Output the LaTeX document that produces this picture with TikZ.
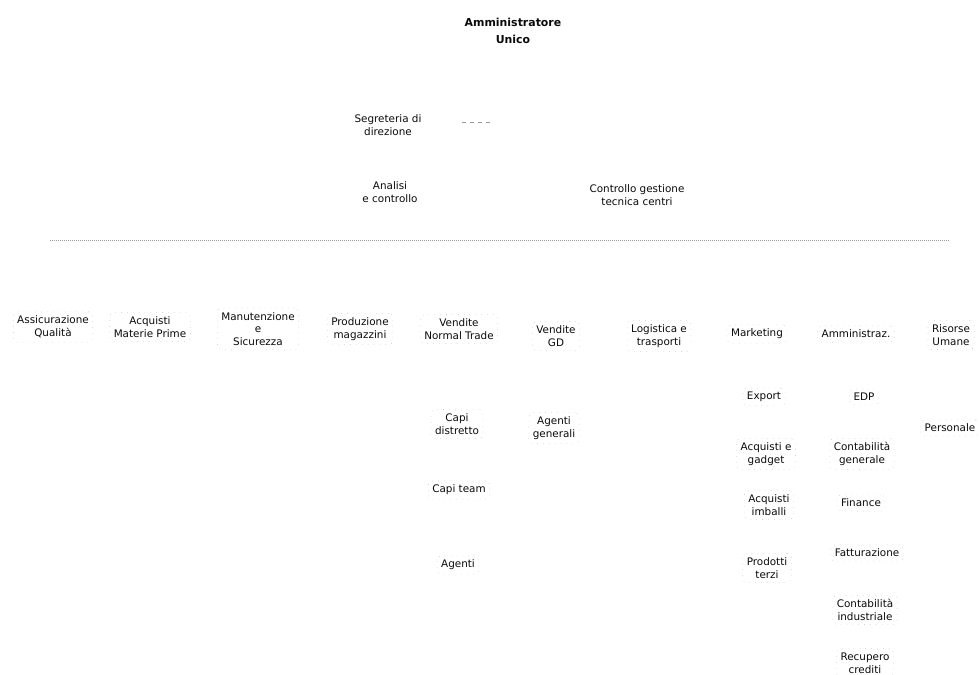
\documentclass[tikz,border=0pt]{standalone}
\usepackage{fontspec}
\setmainfont{DejaVu Sans}
\usepackage{xcolor}
\usetikzlibrary{positioning}
\definecolor{OInk}{HTML}{0A0A0A}
\definecolor{OTrace}{HTML}{9A9A9A}

\begin{document}
\begin{tikzpicture}[x=0.75pt,y=-0.75pt,
    unit/.style={align=center, text=OInk, inner sep=3pt,
      font=\fontsize{7.8}{9.6}\selectfont,
      draw=OTrace!70, loosely dotted, rounded corners=3pt},
    plain/.style={align=center, text=OInk, inner sep=2pt,
      font=\fontsize{7.8}{9.6}\selectfont},
    trace/.style={draw=OTrace, densely dotted, line width=0.5pt}]
  \useasboundingbox (0,0) rectangle (979,675);

  % vertice
  \node[plain, font=\bfseries\fontsize{8.2}{12.5}\selectfont] (ammin) at (513,31)
    {Amministratore\\Unico};

  % staff
  \node[plain] (segr) at (388,125) {Segreteria di\\direzione};
  \coordinate (segrA) at (462,122);
  \coordinate (segrB) at (493,122);
  \draw[OTrace, dashed] (segrA) -- (segrB);
  \node[plain] (analisi) at (390,192) {Analisi\\e controllo};
  \node[plain] (ctrlgest) at (637,195) {Controllo gestione\\tecnica centri};

  % linea delle direzioni
  \coordinate (lineL) at (50,240);
  \coordinate (lineR) at (950,240);
  \draw[trace] (lineL) -- (lineR);

  % direzioni
  \node[unit] (assic) at (53,327) {Assicurazione\\Qualità};
  \node[unit] (acqmp) at (150,327) {Acquisti\\Materie Prime};
  \node[unit] (manut) at (258,329) {Manutenzione\\e\\Sicurezza};
  \node[unit] (prod) at (360,329) {Produzione\\magazzini};
  \node[unit] (vnt) at (459,329) {Vendite\\Normal Trade};
  \node[unit] (vgd) at (556,336) {Vendite\\GD};
  \node[unit] (logist) at (659,336) {Logistica e\\trasporti};
  \node[unit] (mkt) at (757,334) {Marketing};
  \node[unit] (amm) at (856,334) {Amministraz.};
  \node[unit] (ru) at (951,335) {Risorse\\Umane};

  % vendite normal trade
  \node[unit] (capidist) at (457,424) {Capi\\distretto};
  \node[unit] (capiteam) at (459,490) {Capi team};
  \node[unit] (agenti) at (458,565) {Agenti};

  % vendite GD
  \node[unit] (agengen) at (554,428) {Agenti\\generali};

  % marketing
  \node[unit] (export) at (764,397) {Export};
  \node[unit] (acqgad) at (766,454) {Acquisti e\\gadget};
  \node[unit] (acqimb) at (769,505) {Acquisti\\imballi};
  \node[unit] (prodterzi) at (767,568) {Prodotti\\terzi};

  % amministrazione
  \node[unit] (edp) at (864,397) {EDP};
  \node[unit] (contgen) at (862,454) {Contabilità\\generale};
  \node[unit] (finance) at (861,503) {Finance};
  \node[unit] (fatt) at (867,553) {Fatturazione};
  \node[unit] (contind) at (865,610) {Contabilità\\industriale};
  \node[unit] (recup) at (865,663) {Recupero\\crediti};

  % risorse umane
  \node[unit] (pers) at (950,428) {Personale};
\end{tikzpicture}
\end{document}
